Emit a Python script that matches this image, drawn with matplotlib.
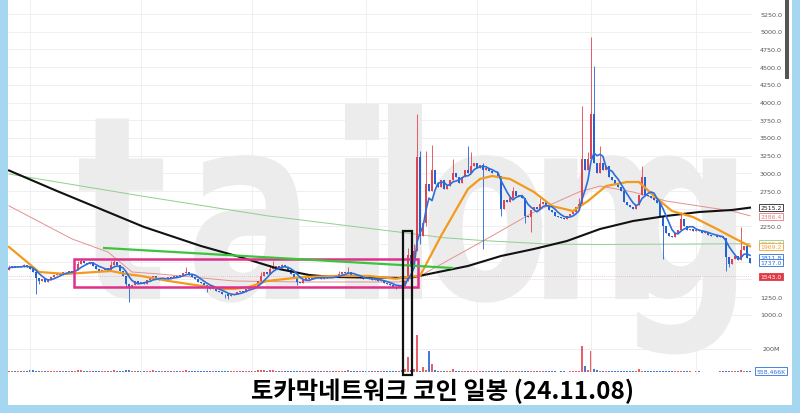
import numpy as np
import pandas as pd
import matplotlib
matplotlib.use('Agg')
import matplotlib.pyplot as plt
from matplotlib.patches import Rectangle
import matplotlib.transforms as mtrans
import matplotlib.patheffects as pe
from matplotlib import font_manager

# ---------------- data ----------------
closes = [
    1660,1690,1670,1690,1680,1700,1670,1650,1600,1520,
    1480,1500,1470,1500,1530,1560,1590,1570,1610,1600,
    1620,1610,1640,1720,1760,1740,1720,1750,1690,1650,
    1620,1640,1660,1640,1700,1750,1700,1620,1550,1440,
    1400,1420,1480,1450,1470,1440,1490,1520,1550,1510,
    1490,1520,1500,1530,1520,1550,1530,1560,1590,1610,
    1570,1540,1500,1470,1450,1420,1400,1370,1390,1340,
    1330,1300,1290,1270,1280,1300,1320,1340,1330,1370,
    1390,1380,1410,1480,1550,1600,1580,1650,1680,1690,
    1660,1700,1670,1640,1580,1520,1470,1450,1490,1520,
    1510,1540,1520,1530,1510,1530,1520,1540,1530,1550,
    1580,1600,1590,1610,1570,1540,1520,1530,1510,1500,
    1520,1490,1500,1480,1490,1450,1440,1420,1400,1390,
    1420,1410,1480,1850,1680,1900,3230,2120,2300,2850,
    2750,3050,2850,2800,2900,2780,2820,2900,3000,2950,
    2870,2950,3050,3000,3100,3150,3080,3120,3040,3070,
    3030,3000,3000,2960,2500,2620,2600,2650,2750,2680,
    2700,2650,2400,2380,2480,2520,2500,2560,2600,2540,
    2480,2450,2400,2380,2370,2350,2390,2420,2460,2520,
    2560,3200,3050,3200,3840,3150,3000,3150,3050,3100,
    2950,2900,2850,2800,2750,2600,2550,2520,2500,2550,
    2700,2950,2700,2680,2650,2620,2580,2400,2250,2150,
    2120,2100,2150,2200,2350,2260,2200,2220,2190,2200,
    2180,2150,2170,2130,2120,2110,2100,2110,2080,1820,
    1720,1790,1830,1780,1920,1970,1800,1737,
]
first_open = 1640
wick_high = {0:1700, 5:1720, 23:1760, 24:1790, 34:1760, 35:1790, 59:1680, 84:1600,
             87:1700, 88:1760, 91:1720, 110:1620, 113:1680, 133:1950, 135:2000,
             136:3840, 137:3320, 139:3310, 141:3400, 148:3200, 153:3380, 154:3300,
             158:3150, 168:2800, 177:2650, 190:2650, 191:3950, 193:3300, 194:4925,
             195:4520, 197:3380, 211:3100, 224:2450, 244:2240}
wick_low = {9:1300, 10:1440, 39:1400, 40:1180, 66:1330, 72:1240, 73:1220, 96:1420,
            129:1360, 131:1380, 137:2000, 139:2250, 158:1930, 164:2400, 172:2300,
            174:2170, 218:1790, 239:1620, 240:1680}
volumes = [
    10,8,12,8,10,8,9,14,18,12,
    10,8,8,10,8,12,10,8,10,8,
    8,10,12,18,14,10,8,12,10,8,
    8,10,8,8,12,16,10,10,12,18,
    14,10,12,8,8,10,12,10,14,8,
    8,8,10,8,8,10,8,10,12,14,
    10,8,10,8,8,10,8,10,8,8,
    10,8,8,8,8,10,8,8,8,10,
    8,8,10,14,20,16,12,18,14,12,
    10,12,10,8,10,12,10,8,10,8,
    8,8,8,8,8,8,8,8,8,8,
    10,12,10,14,10,8,8,8,8,8,
    8,8,8,8,8,8,10,8,8,10,
    10,14,25,130,15,30,322,10,45,20,
    183,70,15,12,10,8,10,12,26,10,
    8,7,9,12,10,8,7,9,10,8,
    7,6,6,8,12,8,6,7,9,6,
    6,5,9,6,7,6,5,6,8,6,
    5,6,5,4,5,5,4,5,6,8,
    10,226,52,20,183,26,15,10,12,9,
    8,7,8,7,9,10,7,6,6,7,
    26,12,8,7,6,6,5,8,10,7,
    6,5,5,6,9,6,5,5,4,5,
    5,4,4,4,4,4,4,5,5,12,
    9,8,7,8,15,10,9,6,
]
# moving-average lines (index, value)
ma120_idx = [0, 16, 45, 64, 77, 90, 100, 108, 130, 135, 153, 164, 175, 186, 197, 208, 219, 230, 241, 247]
ma120_val = [3040, 2750, 2242, 1973, 1818, 1648, 1564, 1535, 1522, 1535, 1691, 1832, 1931, 2044, 2213, 2326, 2397, 2453, 2482, 2515]
ma240_idx = [0, 44, 86, 130, 145, 158, 180, 197, 247]
ma240_val = [2990, 2680, 2400, 2170, 2090, 2050, 2000, 1995, 2005]
ma60_idx = [0, 21, 33, 41, 50, 75, 97, 130, 137, 158, 175, 190, 197, 208, 219, 230, 241, 247]
ma60_val = [2540, 2073, 1888, 1606, 1578, 1479, 1465, 1465, 1550, 2044, 2453, 2736, 2820, 2736, 2609, 2538, 2467, 2400]
ma20_idx = [0, 10, 19, 29, 34, 39, 44, 53, 64, 71, 75, 80, 86, 98, 109, 120, 129, 133, 137,
            144, 153, 157, 161, 167, 175, 181, 188, 193, 199, 206, 210, 215, 221, 228, 236, 241, 247]
ma20_val = [1960, 1606, 1578, 1606, 1620, 1578, 1550, 1480, 1410, 1367, 1367, 1394, 1479, 1535, 1550, 1550, 1510, 1535, 1550,
            2115, 2779, 2920, 2962, 2920, 2736, 2538, 2467, 2609, 2820, 2877, 2877, 2680, 2467, 2383, 2213, 2100, 1969]

price_ticks = [5250, 5000, 4750, 4500, 4250, 4000, 3750, 3500, 3250, 3000, 2750, 2250, 1250, 1000]
grid_levels = [5250, 5000, 4750, 4500, 4250, 4000, 3750, 3500, 3250, 3000, 2750, 2500, 2250, 2000, 1750, 1500, 1250, 1000]
tag_texts = ['2515.2', '2386.4', '2005.7', '1969.2', '1811.8', '1737.0', '1543.0']
tag_values = [2515.2, 2386.4, 2005.7, 1969.2, 1811.8, 1737.0, 1543.0]
tag_colors = ['#222222', '#e07c84', '#8fcf8f', '#f5a030', '#2a6fdc', '#2a6fdc', '#e03a45']
vol_tick_text = '200M'
vol_last_text = '558.466K'
title = '토카막네트워크 코인 일봉 (24.11.08)'
watermark = 'tailong'
wm_centers = [122, 250, 362, 405, 485, 596, 684]   # pixel x centre of each watermark letter

# magenta box, green trend line, black marker box (index/price)
box_x = [21.7, 136.3]
box_y = [1394, 1790]
trend_x = [31.7, 147.7]
trend_y = [1945, 1663]
mark_x = [131.3, 134.3]
mark_y = [151, 2185]


class HScale(pe.AbstractPathEffect):
    """Squeeze glyph outlines horizontally about a fixed display x."""
    def __init__(self, sx, cx):
        super().__init__()
        self.sx, self.cx = sx, cx

    def draw_path(self, renderer, gc, tpath, affine, rgbFace=None):
        aff = affine + mtrans.Affine2D().translate(-self.cx, 0).scale(self.sx, 1).translate(self.cx, 0)
        renderer.draw_path(gc, tpath, aff, rgbFace)


# ---------------- figure ----------------
W, H = 800, 414
fig = plt.figure(figsize=(W / 100, H / 100), dpi=100)
fig.patch.set_facecolor('#a5d7f1')
fig.add_artist(Rectangle((8 / W, (H - 406) / H), (792 - 8) / W, 406 / H,
                         transform=fig.transFigure, facecolor='white', edgecolor='none', zorder=-3))
# scrollbar
fig.add_artist(Rectangle((785 / W, (H - 80) / H), 4 / W, 80 / H,
                         transform=fig.transFigure, facecolor='#555555', edgecolor='none', zorder=5))

# watermark letters
installed = {f.name for f in font_manager.fontManager.ttflist}
if 'Liberation Sans Narrow' in installed:
    for ch, cx in zip(watermark, wm_centers):
        fig.text(cx / W, (H - 300) / H, ch, fontsize=200, fontweight='bold', color='#ececec',
                 ha='center', va='baseline', family='Liberation Sans Narrow', zorder=-2)
else:
    for ch, cx in zip(watermark, wm_centers):
        fig.text(cx / W, (H - 300) / H, ch, fontsize=185, fontweight='bold', color='#ececec',
                 ha='center', va='baseline', family='DejaVu Sans', zorder=-2,
                 path_effects=[HScale(0.74, cx)])

n = len(closes)
x = np.arange(n)
closes_a = np.array(closes, dtype=float)
opens = np.concatenate([[first_open], closes_a[:-1]])
highs = np.maximum(opens, closes_a)
lows = np.minimum(opens, closes_a)
for k, v in wick_high.items():
    highs[k] = max(highs[k], v)
for k, v in wick_low.items():
    lows[k] = min(lows[k], v)
up = closes_a >= opens
RED, BLUE = '#e04450', '#2462d2'
cols = np.where(up, RED, BLUE)

xlim = (-0.33, 247.67)

# volume axes
axv = fig.add_axes([8 / W, (H - 373) / H, 744 / W, 373 / H])
axv.set_xlim(*xlim)
axv.set_ylim(0, 3243)
axv.bar(x, volumes, width=0.7, color=cols, alpha=0.85, linewidth=0)
axv.axis('off')
axv.patch.set_alpha(0)

# price axes
ax = fig.add_axes([8 / W, (H - 376) / H, 744 / W, 376 / H])
ax.set_xlim(*xlim)
ax.set_ylim(151, 5462)
ax.patch.set_alpha(0)
for s in ax.spines.values():
    s.set_visible(False)
ax.set_xticks([])
ax.set_yticks([])

for g in grid_levels:
    ax.axhline(g, color='#ededed', lw=0.6, zorder=0)
axv.axhline(200, color='#ededed', lw=0.6, zorder=0)
for gx in [7, 44, 81, 119, 156, 194, 229]:
    ax.axvline(gx, color='#ededed', lw=0.6, zorder=0)

# candles
ax.vlines(x, lows, highs, colors=cols, lw=0.6, zorder=3)
body_h = np.maximum(np.abs(closes_a - opens), 8)
ax.bar(x, body_h, bottom=np.minimum(opens, closes_a), width=0.72, color=cols, linewidth=0, zorder=3)

# moving averages
ma5 = pd.Series(closes_a).rolling(5, min_periods=1).mean()
ax.plot(ma240_idx, ma240_val, color='#8fcf8f', lw=0.7, zorder=2)
ax.plot(ma60_idx, ma60_val, color='#e69090', lw=0.7, zorder=2)
ax.plot(ma120_idx, ma120_val, color='#111111', lw=1.5, zorder=4)
ax.plot(ma20_idx, ma20_val, color='#f39a1e', lw=1.6, zorder=4)
ax.plot(x, ma5, color='#2a6fdc', lw=1.2, zorder=5)

# annotations
ax.add_patch(Rectangle((box_x[0], box_y[0]), box_x[1] - box_x[0], box_y[1] - box_y[0],
                       fill=False, edgecolor='#e0308c', lw=1.8, zorder=6))
ax.plot(trend_x, trend_y, color='#3cc43c', lw=1.6, zorder=6)
ax.add_patch(Rectangle((mark_x[0], mark_y[0]), mark_x[1] - mark_x[0], mark_y[1] - mark_y[0],
                       fill=False, edgecolor='#111111', lw=1.6, zorder=7, clip_on=False))
ax.axhline(1543.0, color='#e03a45', lw=0.5, ls=(0, (1, 2)), alpha=0.5, zorder=1)

# right price labels
bt = mtrans.blended_transform_factory(ax.transAxes, ax.transData)
lx = (771 - 8) / 744
for p in price_ticks:
    ax.text(lx, p, f'{p:.1f}', transform=bt, ha='center', va='center', fontsize=4.6, color='#555555', clip_on=False)
for t, v, c in zip(tag_texts, tag_values, tag_colors):
    if t == '1543.0':
        ax.text(lx, v, t, transform=bt, ha='center', va='center', fontsize=4.4, color='white', clip_on=False,
                bbox=dict(boxstyle='square,pad=0.18', fc=c, ec=c, lw=0.6))
    else:
        ax.text(lx, v, t, transform=bt, ha='center', va='center', fontsize=4.4, color=c, clip_on=False,
                bbox=dict(boxstyle='square,pad=0.18', fc='white', ec=c, lw=0.6))
btv = mtrans.blended_transform_factory(axv.transAxes, axv.transData)
axv.text(lx, 200, vol_tick_text, transform=btv, ha='center', va='center', fontsize=4.6, color='#555555', clip_on=False)
axv.text(lx, 8, vol_last_text, transform=btv, ha='center', va='center', fontsize=4.4, color='#2a6fdc', clip_on=False,
         bbox=dict(boxstyle='square,pad=0.18', fc='white', ec='#2a6fdc', lw=0.6))

# title
fig.text(443 / W, (H - 391) / H, title, fontsize=17.5, fontweight='bold', color='black',
         ha='center', va='center', family=['Noto Sans CJK KR', 'DejaVu Sans'])

fig.savefig('out.png', dpi=100, facecolor=fig.get_facecolor())
